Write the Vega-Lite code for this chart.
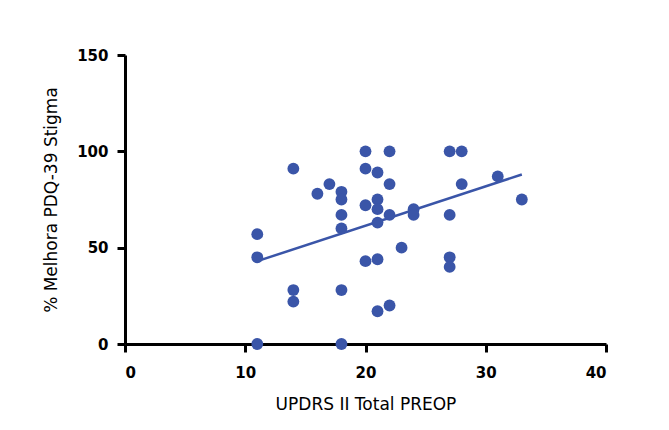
{
  "$schema": "https://vega.github.io/schema/vega-lite/v6.json",
  "width": 481,
  "height": 289,
  "autosize": {"type": "none"},
  "padding": {"left": 125, "top": 55, "right": 63, "bottom": 86},
  "background": "white",
  "config": {
    "view": {"stroke": null},
    "axis": {
      "grid": false,
      "domainColor": "black",
      "domainWidth": 3,
      "tickColor": "black",
      "tickWidth": 3,
      "tickSize": 8,
      "labelFont": "DejaVu Sans",
      "labelFontWeight": "bold",
      "labelFontSize": 15,
      "labelColor": "black",
      "titleFont": "DejaVu Sans",
      "titleFontWeight": "normal",
      "titleFontSize": 17,
      "titleColor": "black"
    }
  },
  "datasets": {
    "points": [
      {"updrs": 11, "melhora": 0}, {"updrs": 18, "melhora": 0},
      {"updrs": 11, "melhora": 45}, {"updrs": 11, "melhora": 57},
      {"updrs": 14, "melhora": 91}, {"updrs": 14, "melhora": 28}, {"updrs": 14, "melhora": 22},
      {"updrs": 16, "melhora": 78}, {"updrs": 17, "melhora": 83},
      {"updrs": 18, "melhora": 79}, {"updrs": 18, "melhora": 75}, {"updrs": 18, "melhora": 67},
      {"updrs": 18, "melhora": 60}, {"updrs": 18, "melhora": 28},
      {"updrs": 20, "melhora": 100}, {"updrs": 20, "melhora": 91}, {"updrs": 20, "melhora": 72}, {"updrs": 20, "melhora": 43},
      {"updrs": 21, "melhora": 89}, {"updrs": 21, "melhora": 75}, {"updrs": 21, "melhora": 70},
      {"updrs": 21, "melhora": 63}, {"updrs": 21, "melhora": 44}, {"updrs": 21, "melhora": 17},
      {"updrs": 22, "melhora": 100}, {"updrs": 22, "melhora": 83}, {"updrs": 22, "melhora": 67}, {"updrs": 22, "melhora": 20},
      {"updrs": 23, "melhora": 50},
      {"updrs": 24, "melhora": 70}, {"updrs": 24, "melhora": 67},
      {"updrs": 27, "melhora": 100}, {"updrs": 27, "melhora": 67}, {"updrs": 27, "melhora": 45}, {"updrs": 27, "melhora": 40},
      {"updrs": 28, "melhora": 100}, {"updrs": 28, "melhora": 83},
      {"updrs": 31, "melhora": 87},
      {"updrs": 33, "melhora": 75}
    ],
    "fit": [
      {"updrs": 11, "melhora": 43},
      {"updrs": 33, "melhora": 88}
    ]
  },
  "layer": [
    {
      "data": {"name": "fit"},
      "mark": {"type": "line", "color": "#3A55A8", "strokeWidth": 2.5},
      "encoding": {
        "x": {"field": "updrs", "type": "quantitative"},
        "y": {"field": "melhora", "type": "quantitative"}
      }
    },
    {
      "data": {"name": "points"},
      "mark": {"type": "circle", "color": "#3A55A8", "opacity": 1, "size": 140},
      "encoding": {
        "x": {
          "field": "updrs", "type": "quantitative",
          "scale": {"domain": [0, 40], "nice": false},
          "axis": {"values": [0, 10, 20, 30, 40], "title": "UPDRS II Total PREOP", "labelPadding": 13, "titlePadding": 16}
        },
        "y": {
          "field": "melhora", "type": "quantitative",
          "scale": {"domain": [0, 150], "nice": false},
          "axis": {"values": [0, 50, 100, 150], "title": "% Melhora PDQ-39 Stigma", "labelPadding": 9, "titlePadding": 16}
        }
      }
    }
  ]
}
